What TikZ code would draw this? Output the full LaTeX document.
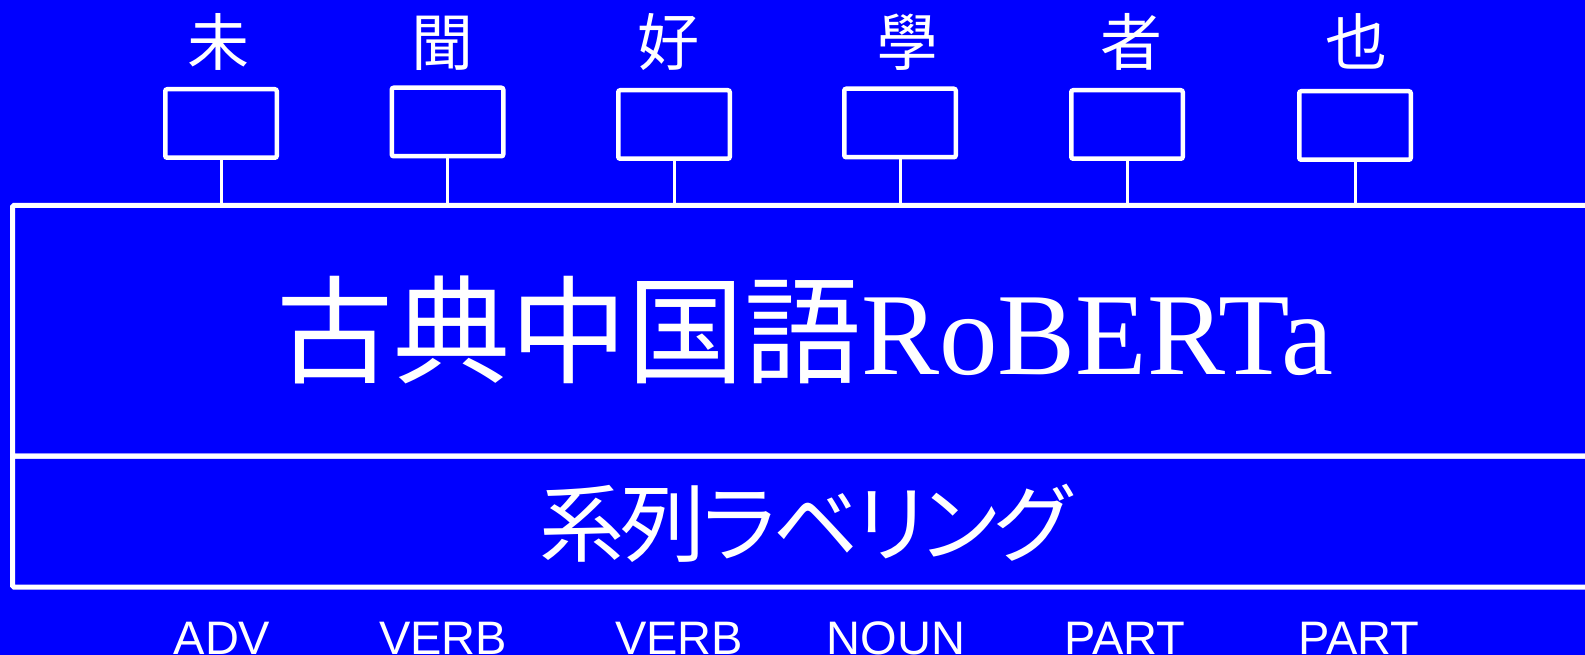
\documentclass[tikz,border=0pt]{standalone}
\usepackage{fontspec}
\setmainfont{Liberation Sans}
\newfontfamily\jpfont{Noto Sans CJK JP}
\newfontfamily\jpprop[RawFeature=+palt,LetterSpace=-4]{Noto Sans CJK JP}
\newfontfamily\latinserif{Liberation Serif}
\definecolor{bg}{RGB}{0,0,255}
\begin{document}
\begin{tikzpicture}[x=1pt,y=-1pt,
  tokbox/.style={draw=white,line width=4.5pt,rounded corners=2pt,
    minimum width=111.5pt,minimum height=68.5pt,inner sep=0pt},
  layer/.style={draw=white,line width=5pt,rounded corners=1.5pt,inner sep=0pt},
  stem/.style={draw=white,line width=3pt},
  tok/.style={text=white,font=\jpfont\fontsize{62}{62}\selectfont,anchor=base,inner sep=0pt},
  tag/.style={text=white,font=\fontsize{47}{47}\selectfont,anchor=base,inner sep=0pt}]
\fill[bg] (0,0) rectangle (1585,655);
\useasboundingbox (0,0) rectangle (1585,655);
\begin{scope}
\clip (0,0) rectangle (1585,655);
% model body and labelling head (open to the right)
\node[layer,minimum width=1590pt,minimum height=250.5pt] (model) at (807.5,330.75) {};
\node[layer,minimum width=1590pt,minimum height=131pt] (head) at (807.5,521.5) {};
\node[anchor=base,text=white,inner sep=0pt] (title) at (805,374)
  {\jpfont\fontsize{117}{117}\selectfont 古典中国語\latinserif RoBERTa};
\node[anchor=base,text=white,inner sep=0pt] (task) at (805,555)
  {\jpprop\fontsize{85}{85}\selectfont 系列ラベリング};
% input token boxes
\node[tokbox] (b1) at (221,123.5) {};
\node[tokbox] (b2) at (447.5,122) {};
\node[tokbox] (b3) at (674,124.5) {};
\node[tokbox] (b4) at (900,123) {};
\node[tokbox] (b5) at (1127,124.5) {};
\node[tokbox] (b6) at (1355,125.5) {};
\foreach \i in {1,...,6}
  \draw[stem] (b\i.south) -- (b\i.south |- model.north);
% input characters
\node[tok] (c1) at (218.5,66) {未};
\node[tok] (c2) at (442.5,66) {聞};
\node[tok] (c3) at (668,66) {好};
\node[tok] (c4) at (907,66) {學};
\node[tok] (c5) at (1131,66) {者};
\node[tok] (c6) at (1356,66) {也};
% output tags
\node[tag] (t1) at (222,654) {ADV};
\node[tag] (t2) at (443,654) {VERB};
\node[tag] (t3) at (679,654) {VERB};
\node[tag] (t4) at (896,654) {NOUN};
\node[tag] (t5) at (1125,654) {PART};
\node[tag] (t6) at (1359,654) {PART};
\end{scope}
\end{tikzpicture}
\end{document}
